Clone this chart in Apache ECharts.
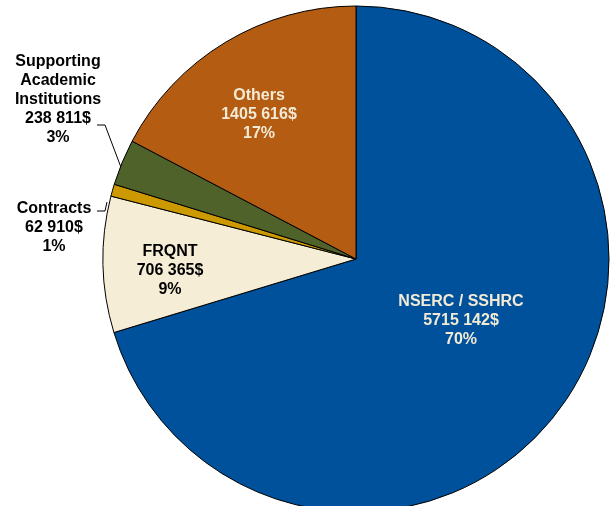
<!DOCTYPE html>
<html>
<head>
<meta charset="utf-8">
<script src="https://cdn.jsdelivr.net/npm/echarts@6/dist/echarts.min.js"></script>
<style>
html,body{margin:0;padding:0;background:#fff;}
#chart{width:610px;height:506px;}
</style>
</head>
<body>
<div id="chart"></div>
<script>
// ---- data ----
const categories = ['NSERC / SSHRC', 'FRQNT', 'Contracts', 'Supporting\nAcademic\nInstitutions', 'Others'];
const values = [5715142, 706365, 62910, 238811, 1405616];
const sliceColors = ['#00519B', '#F6EDD6', '#CC9A00', '#4F622A', '#B35C12'];
const labelColors = ['#F2EAD5', '#000000', '#000000', '#000000', '#F2EAD5'];
const labelOutside = [false, false, true, true, false];

// ---- layout (pixels, relative to pie centre) ----
const CX = 356, CY = 259, R = 253;
const labelOffsets = [[105, 62], [-186, 12], [-302, -31], [-298, -159], [-97, -144]];
const linePoints = [
  null, null,
  [[-249, -57], [-251, -48], [-259, -48]],
  [[-234, -89], [-251, -134], [-259, -134]],
  null
];

function fmtMoney(v) {
  const hi = Math.floor(v / 1000);
  const lo = String(v % 1000).padStart(3, '0');
  return hi + ' ' + lo + '$';
}

const chart = echarts.init(document.getElementById('chart'), null, {renderer: 'canvas'});
const data = categories.map((name, i) => ({
  name: name,
  value: values[i],
  itemStyle: {color: sliceColors[i]},
  label: {
    position: labelOutside[i] ? 'outside' : 'inside',
    color: labelColors[i]
  },
  labelLine: {show: labelOutside[i], lineStyle: {color: '#000', width: 1}}
}));

chart.setOption({
  animation: false,
  series: [{
    type: 'pie',
    center: [CX, CY],
    radius: R,
    startAngle: 90,
    clockwise: true,
    avoidLabelOverlap: false,
    percentPrecision: 0,
    itemStyle: {borderColor: '#000', borderWidth: 1},
    emphasis: {disabled: true},
    label: {
      show: true,
      fontFamily: 'Liberation Sans, Arial, sans-serif',
      fontWeight: 'bold',
      fontSize: 16,
      lineHeight: 19,
      align: 'center',
      formatter: p => p.name + '\n' + fmtMoney(p.value) + '\n' + Math.round(p.percent) + '%'
    },
    labelLine: {length: 10, length2: 8},
    labelLayout: function (params) {
      const i = params.dataIndex;
      const o = labelOffsets[i];
      const res = {x: CX + o[0], y: CY + o[1], align: 'center', verticalAlign: 'middle'};
      if (linePoints[i]) {
        res.labelLinePoints = linePoints[i].map(p => [CX + p[0], CY + p[1]]);
      }
      return res;
    },
    data: data
  }]
});
</script>
</body>
</html>
